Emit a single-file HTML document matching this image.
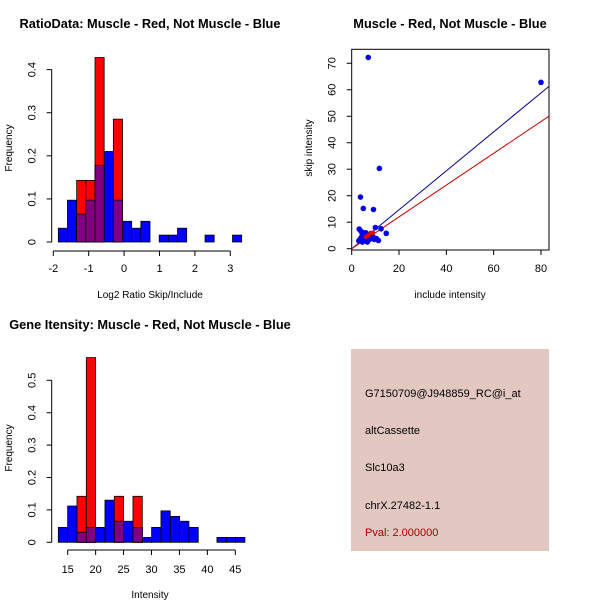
<!DOCTYPE html>
<html><head><meta charset="utf-8"><style>
body{margin:0;background:#fff}
svg{display:block;font-family:"Liberation Sans",Arial,sans-serif}
</style></head><body>
<svg id="c" width="600" height="600" viewBox="0 0 600 600" xmlns="http://www.w3.org/2000/svg">
<rect x="351" y="349" width="198" height="202" fill="#e3c8c2"/>
<g font-size="11" fill="#000">
<text x="365" y="397">G7150709@J948859_RC@i_at</text>
<text x="365" y="434">altCassette</text>
<text x="365" y="471">Slc10a3</text>
<text x="365" y="509">chrX.27482-1.1</text>
<text x="365" y="536" fill="#a00000">Pval: 2.000000</text>
</g>
</svg>
<script>
// Ratio histogram (top-left)
const ratioBlue=[0.032,0.097,0.065,0.097,0.178,0.21,0.097,0.048,0.032,0.048,0,0.016,0.016,0.032,0,0,0.016,0,0,0.016];
const ratioRed=[0,0,0.143,0.143,0.428,0,0.285,0,0,0,0,0,0,0,0,0,0,0,0,0];
const ratioXTicks=[-2,-1,0,1,2,3];
const ratioYTicks=[0,0.1,0.2,0.3,0.4];
// Intensity histogram (bottom-left)
const intBlue=[0.046,0.112,0.031,0.046,0.046,0.13,0.065,0.065,0.046,0.015,0.046,0.097,0.08,0.065,0.046,0,0,0.015,0.015,0.015];
const intRed=[0,0,0.142,0.57,0,0,0.142,0,0.142,0,0,0,0,0,0,0,0,0,0,0];
const intXTicks=[15,20,25,30,35,40,45];
const intYTicks=[0,0.1,0.2,0.3,0.4,0.5];
// Scatter (top-right)
const incX=[7,80,11.7,3.7,4.9,9.2,10,12.4,14.6,3.2,11.3,6.6,3.5,4,4.5,5,4,5.5,6,6.5,7,8,8.5,9,9.5,5,3,4.5,6,7.5,10.5];
const skipY=[72.2,62.8,30.3,19.5,15.2,14.8,8,7.5,5.8,7.4,3.1,2.5,3.5,4.2,5,6,6.5,4,3,4.5,5,4,5.5,4.5,3.5,3,3,2.5,6,3.5,3.8];
const redX=[6,7,8,9];
const redY=[4.5,5,6,6];
const blueSlope=[0.735];
const redSlope=[0.6];
const scXTicks=[0,20,40,60,80];
const scYTicks=[0,10,20,30,40,50,60,70];

const svg=document.getElementById('c');
const NS='http://www.w3.org/2000/svg';
function mk(tag,attrs,parent){const e=document.createElementNS(NS,tag);for(const k in attrs)e.setAttribute(k,attrs[k]);(parent||svg).appendChild(e);return e;}
function txt(s,x,y,size,anchor,rot,weight){const t=mk('text',{x:x,y:y,'font-size':size,'text-anchor':anchor||'middle'});if(rot)t.setAttribute('transform','rotate(-90 '+x+' '+y+')');if(weight)t.setAttribute('font-weight',weight);t.textContent=s;return t;}

function hist(blue,red,x0,bw,xs,ys,xTicks,yTicks,axY,axX,xTickLblY,pre){
  const g=mk('g',{});
  
  
  blue.forEach((v,i)=>{if(v<=0)return;const a=xs(x0+i*bw),b=xs(x0+(i+1)*bw);
    const r=mk('rect',{x:a,y:ys(v),width:b-a,height:ys(0)-ys(v),fill:'#0000ff',stroke:'#000','stroke-width':0.8},g);
    
    });
  red.forEach((v,i)=>{if(v<=0)return;const a=xs(x0+i*bw),b=xs(x0+(i+1)*bw);
    const r=mk('rect',{x:a,y:ys(v),width:b-a,height:ys(0)-ys(v),fill:'#ff0000',stroke:'#000','stroke-width':0.8},g);
    
    
    const o=Math.min(v,blue[i]);
    if(o>0){const p=mk('rect',{x:a,y:ys(o),width:b-a,height:ys(0)-ys(o),fill:'#800080',stroke:'#000','stroke-width':0.8},g);
      
      }});
  const ya=mk('g',{stroke:'#000','stroke-width':1},g);
  
  
  mk('line',{x1:axX,x2:axX,y1:ys(yTicks[0]),y2:ys(yTicks[yTicks.length-1])},ya);
  yTicks.forEach(v=>{mk('line',{x1:axX-5,x2:axX,y1:ys(v),y2:ys(v)},ya);
    const t=txt(String(v),axX-16,ys(v),11,'middle',true);
    
    });
  const xa=mk('g',{stroke:'#000','stroke-width':1},g);
  
  
  mk('line',{x1:xs(xTicks[0]),x2:xs(xTicks[xTicks.length-1]),y1:axY,y2:axY},xa);
  xTicks.forEach(v=>{mk('line',{x1:xs(v),x2:xs(v),y1:axY,y2:axY+5},xa);
    const t=txt(String(v),xs(v),xTickLblY,11);
    
    });
}
const xs1=v=>53.3+(v+2)*35.4, ys1=v=>242-v*431;
hist(ratioBlue,ratioRed,-1.858,0.259,xs1,ys1,ratioXTicks,ratioYTicks,251,51.7,272,'ratio');
const xs2=v=>67.7+(v-15)*5.587, ys2=v=>542.3-v*324;
hist(intBlue,intRed,13.32,1.67,xs2,ys2,intXTicks,intYTicks,550,51.7,573,'intensity');

const sx=v=>351.7+v*2.366, sy=v=>248.7-v*2.649;
const sg=mk('g',{});


const box=mk('rect',{x:351.7,y:49.3,width:197.3,height:200.7,fill:'none',stroke:'#000','stroke-width':1},sg);


const bl=mk('line',{x1:sx(0),y1:sy(0),x2:549,y2:sy(blueSlope[0]*((549-351.7)/2.366)),stroke:'#00008b','stroke-width':1},sg);


const rl=mk('line',{x1:sx(0),y1:sy(0),x2:549,y2:sy(redSlope[0]*((549-351.7)/2.366)),stroke:'#cc0000','stroke-width':1},sg);


incX.forEach((v,i)=>{const c=mk('circle',{cx:sx(v),cy:sy(skipY[i]),r:2.8,fill:'#0000ee'},sg);
  
  });
redX.forEach((v,i)=>{const c=mk('circle',{cx:sx(v),cy:sy(redY[i]),r:2.2,fill:'#ee0000'},sg);
  
  });
scXTicks.forEach(v=>{mk('line',{x1:sx(v),x2:sx(v),y1:250,y2:255,stroke:'#000'},sg);
  const t=txt(String(v),sx(v),272,11);
  
  });
scYTicks.forEach(v=>{mk('line',{x1:346.7,x2:351.7,y1:sy(v),y2:sy(v),stroke:'#000'},sg);
  const t=txt(String(v),335.5,sy(v),11,'middle',true);
  
  });

let t;
t=txt('RatioData: Muscle - Red, Not Muscle - Blue',150,28,12.8,'middle',false,'bold');


t=txt('Muscle - Red, Not Muscle - Blue',450,28,12.8,'middle',false,'bold');


t=txt('Gene Itensity: Muscle - Red, Not Muscle - Blue',150,329,12.8,'middle',false,'bold');


t=txt('Log2 Ratio Skip/Include',150,298,10);


t=txt('include intensity',450,298,10);


t=txt('Intensity',150,598,10);


t=txt('Frequency',12,148,10,'middle',true);


t=txt('Frequency',12,448,10,'middle',true);


t=txt('skip intensity',312,148,10,'middle',true);


</script>
</body></html>
